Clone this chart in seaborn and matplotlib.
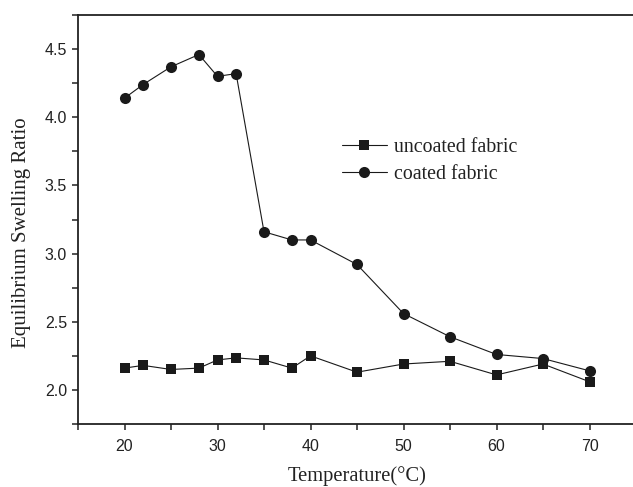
import matplotlib
matplotlib.use("Agg")
import matplotlib.pyplot as plt
from matplotlib.ticker import MultipleLocator
import seaborn as sb
import pandas as pd

# temperatures (deg C) and equilibrium swelling ratios
temperature = [20, 22, 25, 28, 30, 32, 35, 38, 40, 45, 50, 55, 60, 65, 70]
uncoated = [2.16, 2.18, 2.15, 2.16, 2.22, 2.235, 2.22, 2.16, 2.25, 2.13, 2.19, 2.21, 2.11, 2.19, 2.06]
coated = [4.14, 4.24, 4.37, 4.46, 4.30, 4.32, 3.16, 3.10, 3.10, 2.92, 2.56, 2.39, 2.26, 2.23, 2.14]

sb.set_style("ticks")

df_un = pd.DataFrame({"temp": temperature, "ratio": uncoated})
df_co = pd.DataFrame({"temp": temperature, "ratio": coated})

fig = plt.figure(figsize=(6.33, 4.87), dpi=100)
ax = fig.add_axes([78 / 633, 63 / 487, 558 / 633, 409 / 487])

sb.lineplot(data=df_un, x="temp", y="ratio", ax=ax, color="#1a1a1a", linewidth=0.8,
            marker="s", markersize=6.5, markeredgewidth=0, label="uncoated fabric")
sb.lineplot(data=df_co, x="temp", y="ratio", ax=ax, color="#1a1a1a", linewidth=0.8,
            marker="o", markersize=8, markeredgewidth=0, label="coated fabric")

ax.set_xlim(15, 75)
ax.set_ylim(1.75, 4.75)
ax.xaxis.set_major_locator(MultipleLocator(10))
ax.xaxis.set_minor_locator(MultipleLocator(5))
ax.yaxis.set_major_locator(MultipleLocator(0.5))
ax.yaxis.set_minor_locator(MultipleLocator(0.25))
ax.set_xticks([20, 30, 40, 50, 60, 70])

for side in ["left", "bottom", "top"]:
    ax.spines[side].set_linewidth(1.3)
    ax.spines[side].set_color("#222222")
ax.spines["right"].set_visible(False)

ax.tick_params(axis="both", which="both", direction="out", width=1.1, color="#222222",
               labelsize=11.5, top=False, right=False)
ax.tick_params(axis="both", which="major", length=4.5)
ax.tick_params(axis="both", which="minor", length=4.5)
ax.tick_params(axis="x", which="major", pad=6)
for lab in ax.get_xticklabels() + ax.get_yticklabels():
    lab.set_fontfamily("Liberation Sans")
    lab.set_color("#222222")

ax.set_xlabel("Temperature(°C)", fontsize=14.8, family="Liberation Serif", color="#222222", labelpad=9)
ax.set_ylabel("Equilibrium Swelling Ratio", fontsize=15, family="Liberation Serif", color="#222222")
ax.yaxis.set_label_coords(-0.084, 0.468)

leg = ax.legend(loc="center left", bbox_to_anchor=(0.473, 0.643), frameon=False,
                prop={"family": "Liberation Serif", "size": 14.3},
                handlelength=2.25, handletextpad=0.35, labelspacing=0.38,
                borderpad=0, borderaxespad=0)
for t in leg.get_texts():
    t.set_color("#222222")

fig.savefig("out.png", dpi=100)
